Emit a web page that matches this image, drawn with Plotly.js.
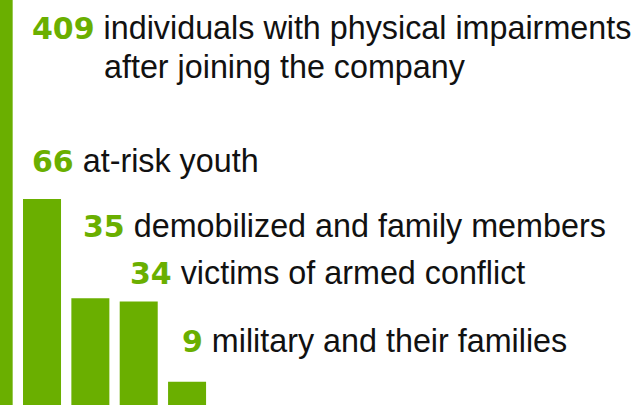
<!DOCTYPE html>
<html>
<head>
<meta charset="utf-8">
<script src="https://cdn.plot.ly/plotly-3.0.1.min.js"></script>
<style>html,body{margin:0;padding:0;background:#fff;}#chart{width:643px;height:405px;}</style>
</head>
<body>
<div id="chart"></div>
<script>
var categories = ["individuals with physical impairments after joining the company", "at-risk youth", "demobilized and family members", "victims of armed conflict", "military and their families"];
var values = [409, 66, 35, 34, 9];
var labelLines = [
  ["individuals with physical impairments", "after joining the company"],
  ["at-risk youth"],
  ["demobilized and family members"],
  ["victims of armed conflict"],
  ["military and their families"]
];

var GREEN = "#6aaf00";
var W = 643, H = 405;
var textFont = {family: "Liberation Sans, Arial, sans-serif", size: 32.3, color: "#111111"};

// label placements in pixels (left x, vertical center)
var labelPos = [[30, 28], [30, 161], [81, 226], [128, 273], [180, 341]];
var secondLinePos = [102, 67];

function num(v) {
  return '<span style="font-family:DejaVu Sans;font-weight:bold;font-size:30px;color:' + GREEN + '">' + v + '</span>';
}

var annotations = [];
for (var i = 0; i < values.length; i++) {
  annotations.push({
    xref: "paper", yref: "paper",
    x: labelPos[i][0] / W, y: 1 - labelPos[i][1] / H,
    xanchor: "left", yanchor: "middle",
    text: num(values[i]) + " " + labelLines[i][0],
    showarrow: false, font: textFont, align: "left"
  });
  if (labelLines[i].length > 1) {
    annotations.push({
      xref: "paper", yref: "paper",
      x: secondLinePos[0] / W, y: 1 - secondLinePos[1] / H,
      xanchor: "left", yanchor: "middle",
      text: labelLines[i][1],
      showarrow: false, font: textFont, align: "left"
    });
  }
}

var trace = {
  type: "bar",
  x: values.map(function (_, i) { return i; }),
  y: values,
  width: 0.786,
  marker: {color: GREEN, line: {width: 0}},
  hoverinfo: "skip"
};

var layout = {
  width: W, height: H,
  margin: {l: 0, r: 0, t: 0, b: 0, pad: 0},
  paper_bgcolor: "#ffffff", plot_bgcolor: "#ffffff",
  showlegend: false,
  xaxis: {range: [0.131, 13.43], visible: false, fixedrange: true},
  yaxis: {range: [1.72, 128.1], visible: false, fixedrange: true},
  annotations: annotations
};

Plotly.newPlot("chart", [trace], layout, {staticPlot: true, displayModeBar: false});
</script>
</body>
</html>
